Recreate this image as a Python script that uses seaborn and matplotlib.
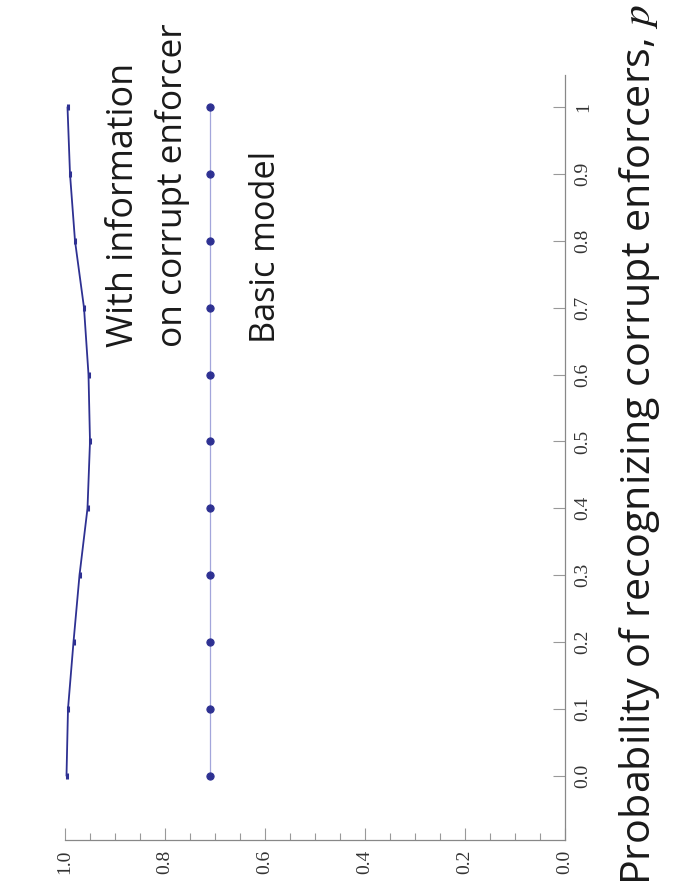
import matplotlib
matplotlib.use('Agg')
import matplotlib.pyplot as plt
from matplotlib.ticker import MultipleLocator
import seaborn as sns
import pandas as pd

# ---- data ----
p_values = [0.0, 0.1, 0.2, 0.3, 0.4, 0.5, 0.6, 0.7, 0.8, 0.9, 1.0]
info_values = [0.997, 0.994, 0.983, 0.971, 0.955, 0.950, 0.953, 0.962, 0.980, 0.990, 0.995]
basic_values = [0.71, 0.71, 0.71, 0.71, 0.71, 0.71, 0.71, 0.71, 0.71, 0.71, 0.71]
p_tick_labels = ['0.0', '0.1', '0.2', '0.3', '0.4', '0.5', '0.6', '0.7', '0.8', '0.9', '1']
value_ticks = [1.0, 0.8, 0.6, 0.4, 0.2, 0.0]
value_tick_labels = ['1.0', '0.8', '0.6', '0.4', '0.2', '0.0']
info_label_lines = ['With information', 'on corrupt enforcer']
basic_label = 'Basic model'
axis_label = 'Probability of recognizing corrupt enforcers, $p$'

sns.set_style('white')
plt.rcParams['mathtext.fontset'] = 'stix'

W, H = 675, 892
fig = plt.figure(figsize=(W / 100, H / 100), dpi=100)
ax = fig.add_axes([65 / W, 1 - 840 / H, (565 - 65) / W, (840 - 75) / H])

dark = '#2E3192'
light = '#A3A6DB'

df_info = pd.DataFrame({'value': info_values, 'p': p_values})
df_basic = pd.DataFrame({'value': basic_values, 'p': p_values})

sns.lineplot(data=df_basic, x='value', y='p', sort=False, orient='y', ax=ax,
             color=light, lw=0.9, marker='o', markersize=5.2,
             markerfacecolor=dark, markeredgecolor=dark)
sns.lineplot(data=df_info, x='value', y='p', sort=False, orient='y', ax=ax,
             color=dark, lw=1.3, marker='|', markersize=5,
             markeredgewidth=2.2, markeredgecolor=dark)

ax.set_xlim(1.0, 0.0)
ax.set_ylim(-0.096, 1.048)
ax.set_xlabel('')
ax.set_ylabel('')

ax.set_xticks(value_ticks)
ax.set_xticklabels(value_tick_labels, rotation=90, family='Liberation Serif')
ax.xaxis.set_minor_locator(MultipleLocator(0.05))
ax.yaxis.tick_right()
ax.set_yticks(p_values)
ax.set_yticklabels(p_tick_labels, rotation=90, va='center', family='Liberation Serif')

ax.tick_params(axis='both', which='major', direction='in', length=9, width=0.8,
               color='#999999', labelcolor='#333333', labelsize=14, pad=7)
ax.tick_params(axis='x', which='minor', direction='in', length=5, width=0.8,
               color='#999999')
ax.tick_params(axis='y', which='both', left=False, right=True)
ax.tick_params(axis='x', which='both', top=False, bottom=True)

for s in ['top', 'left']:
    ax.spines[s].set_visible(False)
for s in ['bottom', 'right']:
    ax.spines[s].set_color('#888888')
    ax.spines[s].set_linewidth(0.9)

ax.set_facecolor('white')
fig.patch.set_facecolor('white')

family = ['Open Sans', 'DejaVu Sans']


def fit_text(s, x_px, y_px, length_px, fs=24):
    t = fig.text(x_px / W, 1 - y_px / H, s, rotation=90, rotation_mode='anchor',
                 ha='left', va='baseline', fontsize=fs, family=family, color='#1a1a1a')
    fig.canvas.draw()
    r = fig.canvas.get_renderer()
    h = t.get_window_extent(renderer=r).height
    t.set_fontsize(fs * length_px / h)
    return t


fit_text(info_label_lines[0], 133, 347, 285)
fit_text(info_label_lines[1], 182, 347, 325)
fit_text(basic_label, 275, 343, 193)
fit_text(axis_label, 650, 885, 880, fs=30)

fig.savefig('out.png', dpi=100)
